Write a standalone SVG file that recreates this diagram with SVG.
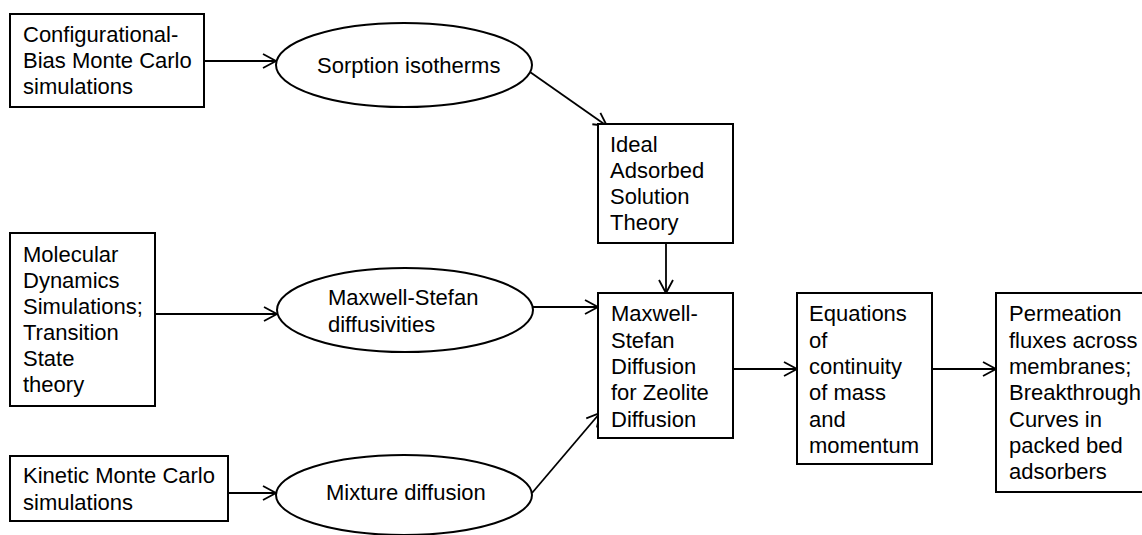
<svg xmlns="http://www.w3.org/2000/svg" width="1142" height="535" viewBox="0 0 1142 535">
<style>
.box{fill:#fff;stroke:#000;stroke-width:2}
.ell{fill:#fff;stroke:#000;stroke-width:2}
.t{font-family:"Liberation Sans",Arial,sans-serif;font-size:22px;fill:#000}
.c{stroke:#000;stroke-width:1.8;fill:none;marker-end:url(#arr)}
</style>
<defs>
<marker id="arr" markerUnits="userSpaceOnUse" markerWidth="20" markerHeight="20" viewBox="-15 -10 20 20" refX="0" refY="0" orient="auto">
<path d="M -13 -7 L 0 0 L -13 7" fill="none" stroke="#000" stroke-width="1.8"/>
</marker>
</defs>
<rect width="1142" height="535" fill="#fff"/>
<g id="connectors">
<line class="c" x1="204" y1="61" x2="276" y2="61"/>
<line class="c" x1="530" y1="72" x2="607" y2="126"/>
<line class="c" x1="666" y1="243" x2="666" y2="293"/>
<line class="c" x1="155" y1="314" x2="277" y2="314"/>
<line class="c" x1="533" y1="307" x2="598" y2="307"/>
<line class="c" x1="228" y1="493" x2="276" y2="493"/>
<line class="c" x1="532" y1="493" x2="600" y2="413"/>
<line class="c" x1="733" y1="369" x2="797" y2="369"/>
<line class="c" x1="932" y1="369" x2="996" y2="369"/>
</g>
<g id="cbmc">
<rect class="box" x="10" y="14" width="194" height="93"/>
<text class="t" x="23" y="42">Configurational-</text>
<text class="t" x="23" y="68">Bias Monte Carlo</text>
<text class="t" x="23" y="94">simulations</text>
</g>
<g id="sorption">
<ellipse class="ell" cx="404" cy="65" rx="128" ry="42"/>
<text class="t" x="317" y="73">Sorption isotherms</text>
</g>
<g id="iast">
<rect class="box" x="598" y="124" width="135" height="119"/>
<text class="t" x="610" y="152">Ideal</text>
<text class="t" x="610" y="178">Adsorbed</text>
<text class="t" x="610" y="204">Solution</text>
<text class="t" x="610" y="230">Theory</text>
</g>
<g id="md">
<rect class="box" x="10" y="233" width="145" height="173"/>
<text class="t" x="23" y="262">Molecular</text>
<text class="t" x="23" y="288">Dynamics</text>
<text class="t" x="23" y="314">Simulations;</text>
<text class="t" x="23" y="340">Transition</text>
<text class="t" x="23" y="366">State</text>
<text class="t" x="23" y="392">theory</text>
</g>
<g id="msdiff">
<ellipse class="ell" cx="405" cy="310" rx="128" ry="42"/>
<text class="t" x="328" y="305">Maxwell-Stefan</text>
<text class="t" x="328" y="332">diffusivities</text>
</g>
<g id="kmc">
<rect class="box" x="10" y="456" width="218" height="65"/>
<text class="t" x="23" y="483">Kinetic Monte Carlo</text>
<text class="t" x="23" y="510">simulations</text>
</g>
<g id="mixture">
<ellipse class="ell" cx="404" cy="495" rx="128" ry="40"/>
<text class="t" x="326" y="500">Mixture diffusion</text>
</g>
<g id="ms">
<rect class="box" x="598" y="293" width="135" height="145"/>
<text class="t" x="611" y="321">Maxwell-</text>
<text class="t" x="611" y="348">Stefan</text>
<text class="t" x="611" y="374">Diffusion</text>
<text class="t" x="611" y="400">for Zeolite</text>
<text class="t" x="611" y="427">Diffusion</text>
</g>
<g id="continuity">
<rect class="box" x="797" y="293" width="135" height="171"/>
<text class="t" x="809" y="321">Equations</text>
<text class="t" x="809" y="348">of</text>
<text class="t" x="809" y="374">continuity</text>
<text class="t" x="809" y="400">of mass</text>
<text class="t" x="809" y="427">and</text>
<text class="t" x="809" y="453">momentum</text>
</g>
<g id="permeation">
<rect class="box" x="996" y="293" width="170" height="199"/>
<text class="t" x="1009" y="321">Permeation</text>
<text class="t" x="1009" y="348">fluxes across</text>
<text class="t" x="1009" y="374">membranes;</text>
<text class="t" x="1009" y="400">Breakthrough</text>
<text class="t" x="1009" y="427">Curves in</text>
<text class="t" x="1009" y="453">packed bed</text>
<text class="t" x="1009" y="479">adsorbers</text>
</g>
</svg>
